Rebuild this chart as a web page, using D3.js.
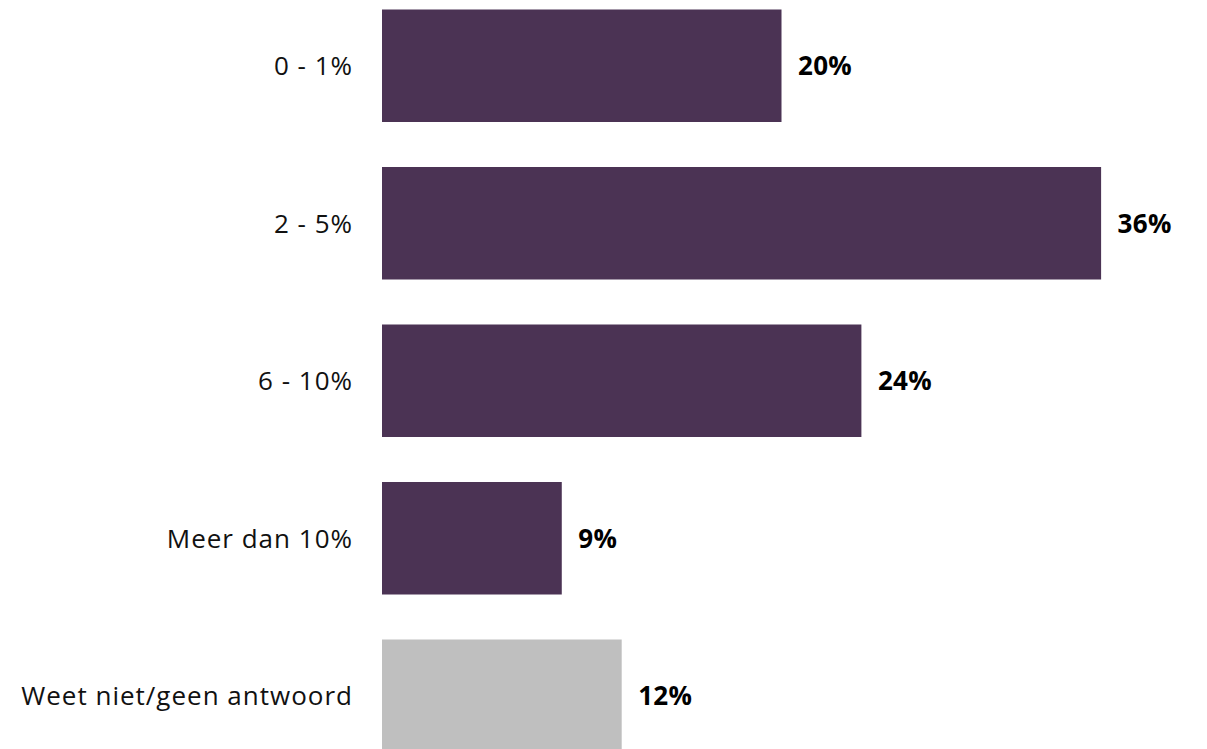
<!DOCTYPE html>
<html>
<head>
<meta charset="utf-8">
<script src="https://cdn.jsdelivr.net/npm/d3@7"></script>
<style>
  html, body { margin: 0; padding: 0; background: #ffffff; }
  svg { display: block; }
</style>
</head>
<body>
<svg id="chart" width="1207" height="749"></svg>
<script>
// Share of respondents per answer category
const categories = ["0 - 1%", "2 - 5%", "6 - 10%", "Meer dan 10%", "Weet niet/geen antwoord"];
const values = [20, 36, 24, 9, 12];
const valueLabels = ["20%", "36%", "24%", "9%", "12%"];
const colors = ["#4b3354", "#4b3354", "#4b3354", "#4b3354", "#bfbfbf"];

const svg = d3.select("#chart");
const fontFamily = "'Open Sans', Lato, sans-serif";

const x = d3.scaleLinear().domain([0, 40]).range([382, 1181]);
const y = d3.scaleBand()
  .domain(categories)
  .range([9.5, 752])
  .paddingInner(0.2857)
  .paddingOuter(0);

const rows = categories.map((c, i) => ({ cat: c, value: values[i], label: valueLabels[i], color: colors[i] }));

svg.append("g").selectAll("rect")
  .data(rows)
  .join("rect")
  .attr("x", x(0))
  .attr("y", d => y(d.cat))
  .attr("width", d => x(d.value) - x(0))
  .attr("height", y.bandwidth())
  .attr("fill", d => d.color);

// Category labels, right-aligned left of the bars
svg.append("g").selectAll("text")
  .data(rows)
  .join("text")
  .attr("x", 353)
  .attr("y", d => y(d.cat) + y.bandwidth() / 2)
  .attr("dy", "0.36em")
  .attr("text-anchor", "end")
  .attr("font-family", fontFamily)
  .attr("font-size", 26)
  .attr("letter-spacing", 1)
  .attr("fill", "#111111")
  .text(d => d.cat);

// Value labels at the end of each bar
svg.append("g").selectAll("text")
  .data(rows)
  .join("text")
  .attr("x", d => x(d.value) + 16.5)
  .attr("y", d => y(d.cat) + y.bandwidth() / 2)
  .attr("dy", "0.36em")
  .attr("font-family", fontFamily)
  .attr("font-weight", 700)
  .attr("font-size", 26)
  .attr("letter-spacing", 0.3)
  .attr("fill", "#000000")
  .text(d => d.label);
</script>
</body>
</html>
